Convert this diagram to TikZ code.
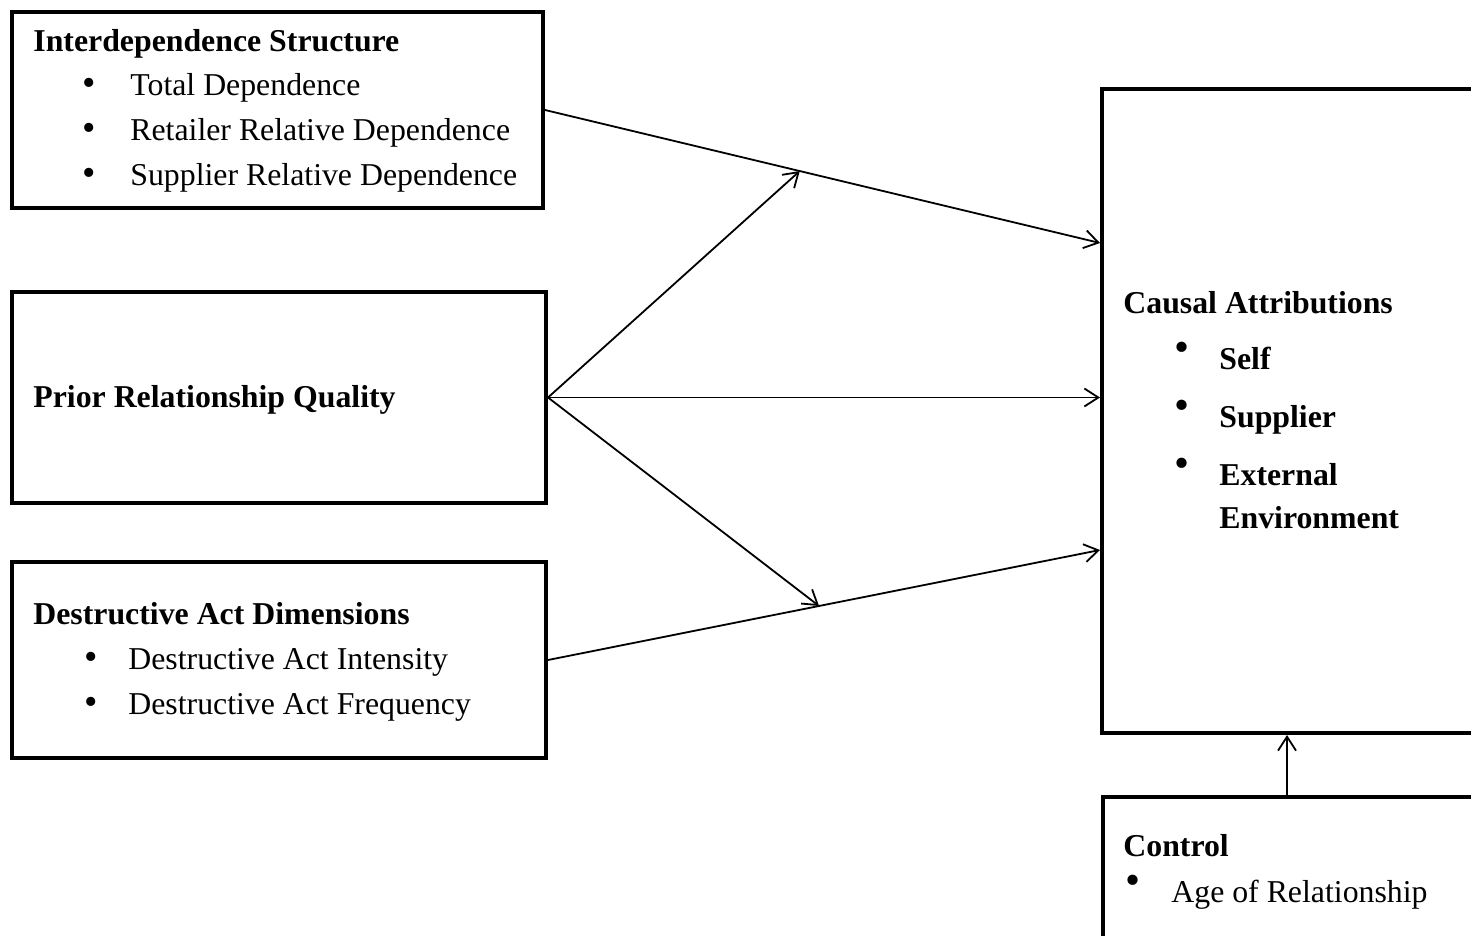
\documentclass[tikz,border=0pt]{standalone}
\usepackage{fontspec}
\setmainfont{Liberation Serif}
\usetikzlibrary{arrows.meta, calc}

% bullet followed by a fixed gap
\newcommand{\bul}[1]{\makebox[#1][l]{\scalebox{1.2}{\textbullet}}}
\newcommand{\hibul}[1]{\makebox[#1][l]{\raisebox{4pt}{\scalebox{1.35}{\textbullet}}}}

\begin{document}
\begin{tikzpicture}[x=0.5pt, y=-0.5pt, font=\fontsize{15.9}{19}\selectfont]
        \clip (0,0) rectangle (1471,936);
        \begin{scope}[every node/.style={draw,line width=2pt,inner sep=0pt}]
          \node[minimum width=265.5pt, minimum height=98pt] (inter) at (277.5,110) {};
          \node[minimum width=267pt, minimum height=105.5pt] (prior) at (279,397.5) {};
          \node[minimum width=267pt, minimum height=98pt] (destr) at (279,660) {};
          \node[minimum width=249pt, minimum height=322pt] (causal) at (1351,411) {};
          \node[minimum width=248.5pt, minimum height=101.5pt] (ctrl) at (1351.5,898.5) {};
        \end{scope}
        \begin{scope}[every node/.style={anchor=base west,inner sep=0pt}]
          \node (interH) at (33,52) {\textbf{Interdependence Structure}};
          \node (interA) at (82,96) {\bul{24pt}Total Dependence};
          \node (interB) at (82,141) {\bul{24pt}Retailer Relative Dependence};
          \node (interC) at (82,186) {\bul{24pt}Supplier Relative Dependence};
          \node (priorH) at (33,407) {\textbf{Prior Relationship Quality}};
          \node (destrH) at (33,624) {\textbf{Destructive Act Dimensions}};
          \node (destrA) at (84,669) {\bul{22pt}Destructive Act Intensity};
          \node (destrB) at (84,714) {\bul{22pt}Destructive Act Frequency};
          \node (causalH) at (1123,313) {\textbf{Causal Attributions}};
          \node (causalA) at (1174,369) {\hibul{22.5pt}\textbf{Self}};
          \node (causalB) at (1174,427) {\hibul{22.5pt}\textbf{Supplier}};
          \node (causalC) at (1174,485) {\hibul{22.5pt}\textbf{External}};
          \node (causalD) at (1219,528) {\textbf{Environment}};
          \node (ctrlH) at (1123,856) {\textbf{Control}};
          \node (ctrlA) at (1125,902) {\hibul{23pt}Age of Relationship};
        \end{scope}
        % arrow ends on the causal box
        \coordinate (t1) at (1100,243);
        \coordinate (t3) at (1100,550);
        \coordinate (t5) at (1287,0);
        \coordinate (m1) at ($(inter.east)!0.459!(t1)$);
        \coordinate (m3) at ($(destr.east)!0.491!(t3)$);
        \begin{scope}[every edge/.style={draw=black,line width=0.9pt,-{Straight Barb[length=7pt,width=9pt]}}]
          \path (inter.east) edge (t1);
          \path (prior.east) edge (m1);
          \path (prior.east) edge (causal.west |- prior.east);
          \path (prior.east) edge (m3);
          \path (destr.east) edge (t3);
          \path (ctrl.north -| t5) edge (causal.south -| t5);
        \end{scope}
      \end{tikzpicture}
\end{document}
